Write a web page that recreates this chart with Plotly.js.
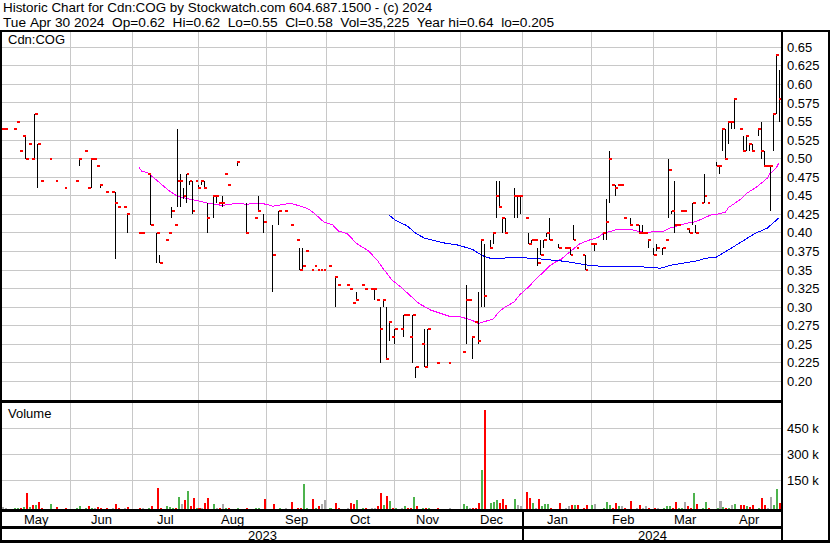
<!DOCTYPE html>
<html><head><meta charset="utf-8">
<script src="https://cdn.plot.ly/plotly-3.0.1.min.js"></script>
<style>html,body{margin:0;padding:0;background:#fff;}#chart{width:830px;height:543px;}
#chart svg path{shape-rendering:crispEdges;}</style>
</head><body><div id="chart"></div>
<script>
// ---------- DATA ----------
const dates = [
 '2023-05-01','2023-05-02','2023-05-05','2023-05-08','2023-05-09','2023-05-10','2023-05-11','2023-05-12','2023-05-15','2023-05-16','2023-05-17','2023-05-18','2023-05-23','2023-05-25','2023-05-30',
 '2023-06-05','2023-06-06','2023-06-08','2023-06-09','2023-06-12','2023-06-13','2023-06-14','2023-06-15','2023-06-19','2023-06-21','2023-06-22','2023-06-23','2023-06-27','2023-06-28',
 '2023-07-04','2023-07-05','2023-07-07','2023-07-10','2023-07-12','2023-07-13','2023-07-17','2023-07-18','2023-07-19','2023-07-20','2023-07-21','2023-07-24','2023-07-25','2023-07-26','2023-07-27','2023-07-28','2023-07-31',
 '2023-08-01','2023-08-02','2023-08-03','2023-08-04','2023-08-08','2023-08-09','2023-08-10','2023-08-11','2023-08-14','2023-08-15','2023-08-18','2023-08-23','2023-08-28','2023-08-29','2023-08-31',
 '2023-09-05','2023-09-07','2023-09-11','2023-09-13','2023-09-15','2023-09-18','2023-09-19','2023-09-20','2023-09-22','2023-09-25','2023-09-26','2023-09-27','2023-09-28',
 '2023-10-02','2023-10-04','2023-10-05','2023-10-10','2023-10-11','2023-10-12','2023-10-13','2023-10-17','2023-10-18','2023-10-20','2023-10-23','2023-10-24','2023-10-25','2023-10-26','2023-10-27','2023-10-30','2023-10-31',
 '2023-11-01','2023-11-03','2023-11-06','2023-11-07','2023-11-08','2023-11-09','2023-11-10','2023-11-14','2023-11-15','2023-11-16','2023-11-21','2023-11-27',
 '2023-12-04','2023-12-05','2023-12-06','2023-12-07','2023-12-08','2023-12-11','2023-12-12','2023-12-13','2023-12-15','2023-12-18','2023-12-19','2023-12-20','2023-12-21','2023-12-22','2023-12-27','2023-12-28','2023-12-29',
 '2024-01-02','2024-01-03','2024-01-04','2024-01-05','2024-01-08','2024-01-09','2024-01-10','2024-01-11','2024-01-12','2024-01-17','2024-01-19','2024-01-22','2024-01-23','2024-01-24','2024-01-25','2024-01-29','2024-01-30',
 '2024-02-01','2024-02-02','2024-02-07','2024-02-08','2024-02-09','2024-02-12','2024-02-13','2024-02-14','2024-02-15','2024-02-16','2024-02-20','2024-02-22','2024-02-23','2024-02-26','2024-02-27','2024-02-28',
 '2024-03-01','2024-03-04','2024-03-06','2024-03-07','2024-03-08','2024-03-11','2024-03-12','2024-03-13','2024-03-14','2024-03-15','2024-03-18','2024-03-19','2024-03-20','2024-03-21','2024-03-25','2024-03-26','2024-03-27',
 '2024-04-01','2024-04-02','2024-04-03','2024-04-04','2024-04-05','2024-04-08','2024-04-09','2024-04-11','2024-04-12','2024-04-15','2024-04-16','2024-04-17','2024-04-19','2024-04-22','2024-04-23','2024-04-24','2024-04-25','2024-04-26','2024-04-29','2024-04-30'
];
const n = null;
const high = [
 n,n,n,n,n,n,.53,n,n,.56,.52,n,n,n,n,
 n,.50,n,n,.50,n,n,.465,n,n,.455,n,n,.425,
 n,n,n,.48,.40,.37,n,n,.435,n,.54,.48,.46,.48,.47,.47,n,
 .465,.47,.47,.44,.45,.45,n,.45,n,n,.495,.44,n,.45,.425,
 .41,.43,n,n,n,.38,.38,n,n,n,n,n,n,
 n,.34,n,n,n,n,.32,n,n,n,.325,n,.30,.31,.30,.28,n,
 .27,n,.29,n,n,.29,.22,n,.27,.27,n,n,
 n,.33,n,.26,n,.32,.39,.385,.39,.40,.47,.47,.42,.42,.46,.45,.45,
 n,.40,.39,n,.38,.39,.39,.40,.42,.385,n,n,.38,.41,n,n,.37,
 n,.385,.40,.445,.51,n,.465,n,n,n,.42,n,.41,.41,n,.39,
 .38,.385,.38,n,.50,.43,.47,n,n,n,n,.405,.44,.41,n,.48,n,
 .495,.49,.54,.54,.55,.55,.58,n,.53,.53,.52,.52,.54,.55,.51,n,.49,.56,.64,.62
];
const low = [
 n,n,n,n,n,n,.50,n,n,.50,.46,n,n,n,n,
 n,.49,n,n,.46,n,n,.46,n,n,.365,n,n,.40,
 n,n,n,.41,.36,.36,n,n,.42,n,.435,.435,.445,.44,.465,.425,n,
 .46,.465,.46,.40,.42,.44,n,.435,n,n,.49,.40,n,.43,.40,
 .32,.41,n,n,n,.35,.35,n,n,n,n,n,n,
 n,.30,n,n,n,n,.31,n,n,n,.31,n,.225,.30,.23,.255,n,
 .25,n,.26,n,n,.225,.205,n,.22,.22,n,n,
 n,.25,n,.23,n,.25,.30,.30,.38,.385,.42,.435,.40,.40,.42,.42,.425,
 n,.385,.385,n,.355,.37,.38,.395,.39,.38,n,n,.37,.39,n,n,.35,
 n,.375,.39,.39,.44,n,.45,n,n,n,.41,n,.40,.40,n,.38,
 .37,.375,.37,n,.42,.425,.40,n,n,n,n,.40,.41,.40,n,.44,n,
 .49,.48,.51,.50,.52,.54,.54,n,.51,.51,.51,.51,.53,.50,.49,n,.43,.51,.56,.55
];
const close = [
 .54,.54,.54,.55,.51,.53,.50,.52,.50,.56,.52,.47,.50,.47,.46,
 .47,.50,.51,.46,.50,.50,.49,.465,.455,.455,.44,.435,.435,.425,
 .40,.40,.48,.41,.40,.36,.39,.40,.43,.41,.47,.47,.45,.48,.47,.43,.47,
 .46,.47,.46,.42,.45,.45,.44,.44,.48,.465,.495,.40,.42,.43,.415,
 .37,.43,.43,.41,.39,.35,.355,.375,.35,.355,.35,.35,.35,
 .355,.34,.33,.33,.325,.305,.31,.33,.325,.325,.325,.31,.27,.31,.23,.28,.26,
 .27,.27,.29,.29,.26,.29,.22,.25,.22,.27,.225,.225,
 .24,.31,.31,.26,.28,.255,.39,.315,.38,.40,.45,.435,.42,.40,.45,.45,.45,
 .42,.385,.39,.39,.36,.37,.39,.40,.39,.38,.38,.38,.37,.39,.38,.37,.35,
 .385,.385,.40,.415,.50,.465,.46,.465,.465,.42,.41,.41,.40,.40,.40,.39,
 .37,.38,.38,.39,.485,.43,.41,.41,.43,.43,.405,.40,.44,.40,.44,.45,.44,
 .49,.49,.54,.50,.55,.55,.58,.54,.51,.53,.52,.51,.54,.51,.49,.49,.49,.56,.64,.58
];
const volume = [
 13000,8000,6000,6000,6000,10000,92000,12000,23000,23000,40000,8000,29000,12000,6000,
 8000,17000,6000,17000,6000,4000,12000,4000,4000,4000,29000,4000,4000,12000,
 4000,4000,6000,17000,123000,4000,17000,12000,6000,6000,69000,29000,52000,104000,17000,63000,6000,
 6000,6000,35000,63000,29000,6000,4000,29000,6000,4000,8000,8000,6000,6000,58000,
 29000,6000,4000,40000,4000,4000,144000,6000,58000,6000,17000,29000,52000,
 6000,35000,4000,4000,35000,29000,52000,6000,4000,4000,4000,17000,92000,23000,75000,46000,6000,
 6000,4000,17000,6000,4000,69000,17000,6000,4000,4000,4000,4000,
 29000,17000,6000,6000,6000,35000,225000,571000,35000,40000,52000,35000,58000,23000,58000,23000,17000,
 98000,63000,35000,6000,58000,17000,29000,29000,6000,35000,4000,17000,23000,23000,23000,6000,23000,
 23000,29000,6000,40000,23000,6000,35000,17000,17000,6000,46000,4000,23000,6000,17000,6000,
 6000,4000,6000,17000,17000,6000,40000,6000,6000,40000,17000,6000,92000,29000,6000,40000,6000,
 6000,46000,12000,6000,6000,23000,29000,23000,23000,17000,12000,23000,6000,63000,23000,6000,69000,23000,115000,35225
];
const volDir = [
 'n','n','u','u','d','u','d','u','d','u','d','d','u','d','d',
 'u','u','u','d','u','n','d','d','d','n','d','d','n','d',
 'd','n','u','d','d','d','u','u','u','d','u','n','d','u','d','d','u',
 'd','n','d','d','u','n','d','n','u','d','u','d','u','u','d',
 'd','u','n','d','d','d','u','u','d','u','d','n','n',
 'u','d','d','n','d','d','u','u','d','n','n','d','d','u','d','u','d',
 'u','n','u','d','d','u','d','u','d','u','d','n',
 'u','u','n','d','d','d','u','d','u','u','u','d','d','d','u','n','n',
 'd','d','u','n','d','u','u','u','d','d','n','n','d','u','d','d','d',
 'u','n','u','u','u','d','d','u','n','d','d','n','d','n','n','d',
 'd','n','u','u','u','d','d','u','u','n','d','d','u','d','u','u','d',
 'u','n','u','d','u','n','u','d','d','u','d','d','u','d','d','n','n','u','u','d'
];
// moving averages
const maShortDates = ['2023-07-04','2023-07-05','2023-07-07','2023-07-11','2023-07-14','2023-07-18','2023-07-21','2023-07-27','2023-08-01','2023-08-04','2023-08-11','2023-08-18','2023-08-23','2023-08-29','2023-09-01','2023-09-05','2023-09-07','2023-09-13','2023-09-19','2023-09-21','2023-09-25','2023-09-28','2023-10-03','2023-10-05','2023-10-10','2023-10-13','2023-10-19','2023-10-24','2023-10-26','2023-10-31','2023-11-03','2023-11-08','2023-11-13','2023-11-17','2023-11-22','2023-11-27','2023-12-01','2023-12-07','2023-12-11','2023-12-13','2023-12-18','2023-12-20','2023-12-22','2023-12-27','2023-12-29','2024-01-03','2024-01-05','2024-01-10','2024-01-12','2024-01-16','2024-01-18','2024-01-22','2024-01-24','2024-01-26','2024-01-31','2024-02-05','2024-02-07','2024-02-12','2024-02-14','2024-02-20','2024-02-23','2024-02-27','2024-03-01','2024-03-06','2024-03-08','2024-03-13','2024-03-18','2024-03-21','2024-03-25','2024-03-28','2024-04-02','2024-04-04','2024-04-05','2024-04-09','2024-04-11','2024-04-15','2024-04-18','2024-04-22','2024-04-24','2024-04-25','2024-04-29','2024-04-30'];
const maShort = [0.488,0.483,0.481,0.474,0.464,0.457,0.449,0.446,0.443,0.440,0.437,0.440,0.4385,0.440,0.4385,0.436,0.437,0.440,0.435,0.432,0.426,0.415,0.411,0.4025,0.399,0.386,0.376,0.3635,0.352,0.3365,0.327,0.316,0.305,0.296,0.292,0.288,0.287,0.282,0.278,0.280,0.284,0.294,0.300,0.307,0.317,0.3275,0.3365,0.3477,0.3558,0.361,0.365,0.372,0.378,0.385,0.390,0.3935,0.3994,0.403,0.405,0.405,0.4016,0.4008,0.4016,0.402,0.406,0.4097,0.413,0.415,0.4183,0.424,0.4258,0.428,0.434,0.440,0.445,0.453,0.4605,0.4668,0.4735,0.480,0.487,0.4946];
const maLongDates = ['2023-10-30','2023-11-01','2023-11-07','2023-11-10','2023-11-15','2023-11-20','2023-11-24','2023-11-30','2023-12-04','2023-12-07','2023-12-11','2023-12-13','2023-12-15','2024-01-01','2024-01-09','2024-01-15','2024-01-18','2024-01-23','2024-01-29','2024-02-01','2024-02-07','2024-02-16','2024-02-21','2024-03-01','2024-03-05','2024-03-11','2024-03-18','2024-03-22','2024-03-26','2024-04-01','2024-04-04','2024-04-10','2024-04-15','2024-04-18','2024-04-24','2024-04-26','2024-04-30'];
const maLong = [0.4241,0.4173,0.4097,0.3994,0.3927,0.3895,0.386,0.3837,0.381,0.3779,0.3725,0.3684,0.3658,0.3666,0.3648,0.3635,0.3621,0.3604,0.3577,0.3558,0.355,0.354,0.3545,0.3536,0.3523,0.3567,0.3598,0.3626,0.3657,0.3675,0.3746,0.3846,0.3927,0.3994,0.4062,0.4129,0.4204];

const priceTicks = [0.20,0.225,0.25,0.275,0.30,0.325,0.35,0.375,0.40,0.425,0.45,0.475,0.50,0.525,0.55,0.575,0.60,0.625,0.65];
const priceTickText = ['0.20','0.225','0.25','0.275','0.30','0.325','0.35','0.375','0.40','0.425','0.45','0.475','0.50','0.525','0.55','0.575','0.60','0.625','0.65'];
const volTicks = [150000,300000,450000];
const volTickText = ['150 k','300 k','450 k'];
const monthLabels = ['May','Jun','Jul','Aug','Sep','Oct','Nov','Dec','Jan','Feb','Mar','Apr'];
const yearLabels = ['2023','2024'];
const headerLine1 = 'Historic Chart for Cdn:COG by Stockwatch.com 604.687.1500 - (c) 2024';
const headerLine2 = 'Tue Apr 30 2024  Op=0.62  Hi=0.62  Lo=0.55  Cl=0.58  Vol=35,225  Year hi=0.64  lo=0.205';
const symbolLabel = 'Cdn:COG';
const volumeLabel = 'Volume';

// ---------- LAYOUT HELPERS ----------
const W = 830, H = 543, ML = 2, MR = 48, MT = 32, MB = 34;
const PW = W - ML - MR, PH = H - MT - MB;
const px = X => (X - ML) / PW;
const py = Y => (H - MB - Y) / PH;
const DAY = 864e5;
const START = '2023-05-01', END = '2024-05-01';
function iso(t){ return new Date(t).toISOString().slice(0,10); }
function slotOf(s){
  const a = Date.UTC(2023,4,1); const p = s.split('-').map(Number);
  const b = Date.UTC(p[0],p[1]-1,p[2]); let k = 0;
  for (let u = a; u < b; u += DAY){ const wd = new Date(u).getUTCDay(); if (wd !== 0 && wd !== 6) k++; }
  return k;
}
function boundary(y, m){
  let t = Date.UTC(y, m, 1); const wd = new Date(t).getUTCDay();
  if (wd === 6) t -= DAY; else if (wd === 0) t -= 2*DAY;
  return iso(t);
}
const bounds = [];
for (let i = 0; i <= 12; i++){ const mm = 4 + i; bounds.push(boundary(2023 + Math.floor(mm/12), mm % 12)); }
const TOTAL = slotOf(END);
const bSlots = bounds.map(slotOf);
const gridDates = bounds.slice(1, 12);

const fontFam = '"Liberation Sans", Arial, sans-serif';
// header font size fitted to the measured text extent of the reference
const nb = s => s.replace(/ /g, '\u00a0');
const cv = document.createElement('canvas').getContext('2d');
cv.font = '13px "Liberation Sans"';
const fit = (prefix, targetPx) => 13 * targetPx / cv.measureText(nb(prefix)).width;
const hdr1Size = fit('Historic Chart for Cdn:COG by Stockwatch.com 604.687.1500 - (c) 20', 415);
const hdr2Size = fit('Tue Apr 30 2024  Op=0.62  Hi=0.62  Lo=0.55  Cl=0.58  Vol=35,225  ', 414);

// ---------- TRACES ----------
const barX = [], barY = [], tickX = [], tickY = [];
dates.forEach((d, i) => {
  if (high[i] !== null && low[i] !== null){ barX.push(d, d, null); barY.push(low[i], high[i], null); }
  tickX.push(d, d + ' 23:00', null); tickY.push(close[i], close[i], null);
});
const VMIN = -15577, VMAX = 597692;
const dirColor = {u:'#4db34d', d:'#ff0000', n:'#a8a8a8'};

const traces = [
  {type:'scatter', mode:'lines', x:maShortDates, y:maShort, line:{color:'#ff00ff', width:1}, hoverinfo:'skip', xaxis:'x', yaxis:'y'},
  {type:'scatter', mode:'lines', x:maLongDates, y:maLong, line:{color:'#0000ff', width:1}, hoverinfo:'skip', xaxis:'x', yaxis:'y'},
  {type:'scatter', mode:'lines', x:barX, y:barY, line:{color:'#000000', width:1}, connectgaps:false, hoverinfo:'skip', xaxis:'x', yaxis:'y'},
  {type:'scatter', mode:'lines', x:tickX, y:tickY, line:{color:'#ff0000', width:2}, connectgaps:false, hoverinfo:'skip', xaxis:'x', yaxis:'y'},
  {type:'bar', x:dates, y:volume, base:VMIN, offset:0, width:0.68*DAY,
   marker:{color:volDir.map(c => dirColor[c]), line:{width:0}}, hoverinfo:'skip', xaxis:'x2', yaxis:'y2'}
];

const xcommon = {type:'date', range:[START, END], rangebreaks:[{bounds:['sat','mon']}],
  tickmode:'array', tickvals:gridDates, showticklabels:false, ticks:'', showgrid:true,
  gridcolor:'#c8c8c8', gridwidth:1, zeroline:false, showline:false, fixedrange:true};

const ann = [];
const A = (text, X, Y, xa, size) => ann.push({text, x:px(X), y:py(Y), xref:'paper', yref:'paper',
  xanchor:xa, yanchor:'middle', showarrow:false, font:{family:fontFam, size:size||13, color:'#000'}});
A(nb(headerLine1), 1, 7.5, 'left', hdr1Size);
A(nb(headerLine2), 1, 22.5, 'left', hdr2Size);
A(symbolLabel, 6, 40, 'left');
A(volumeLabel, 6, 413, 'left');
monthLabels.forEach((m, i) => {
  ann.push({text:m, x:(bSlots[i] + bSlots[i+1]) / 2 / TOTAL, y:py(519), xref:'paper', yref:'paper',
    xanchor:'center', yanchor:'middle', showarrow:false, font:{family:fontFam, size:13, color:'#000'}});
});
const yearSlots = [bSlots[0], bSlots[8], bSlots[12]];
yearLabels.forEach((y, i) => {
  ann.push({text:y, x:(yearSlots[i] + yearSlots[i+1]) / 2 / TOTAL, y:py(535), xref:'paper', yref:'paper',
    xanchor:'center', yanchor:'middle', showarrow:false, font:{family:fontFam, size:13, color:'#000'}});
});

const L = (x0, y0, x1, y1, w) => ({type:'line', xref:'paper', yref:'paper', x0:px(x0), y0:py(y0), x1:px(x1), y1:py(y1),
  line:{color:'#000', width:w}, layer:'above'});
const yearDivX = ML + PW * bSlots[8] / TOTAL;
const shapes = [
  L(0, 30.5, 830, 30.5, 2),
  L(1, 30, 1, 543, 2),
  L(781.8, 30, 781.8, 543, 2),
  L(829, 30, 829, 543, 2),
  L(0, 401.3, 781.8, 401.3, 2.6),
  L(0, 510.6, 781.8, 510.6, 2.6),
  L(0, 527.3, 781.8, 527.3, 2.6),
  L(0, 541.6, 830, 541.6, 2.6),
  L(yearDivX, 510, yearDivX, 542, 2)
];

const layout = {
  width:W, height:H, margin:{l:ML, r:MR, t:MT, b:MB, pad:0},
  paper_bgcolor:'#fff', plot_bgcolor:'#fff', showlegend:false, bargap:0,
  font:{family:fontFam, size:13, color:'#000'},
  xaxis:Object.assign({anchor:'y'}, xcommon),
  xaxis2:Object.assign({anchor:'y2', matches:'x'}, xcommon),
  yaxis:{domain:[(H-MB-400)/PH, 1], range:[0.17487, 0.67063], side:'right', tickmode:'array',
    tickvals:priceTicks, ticktext:priceTickText, showgrid:true, gridcolor:'#c8c8c8', gridwidth:1,
    zeroline:false, showline:false, ticks:'', ticklabelstandoff:4, tickfont:{family:fontFam, size:13, color:'#000'}, fixedrange:true},
  yaxis2:{domain:[0, (H-MB-402.7)/PH], range:[VMIN, VMAX], side:'right', tickmode:'array',
    tickvals:volTicks, ticktext:volTickText, showgrid:true, gridcolor:'#c8c8c8', gridwidth:1,
    zeroline:false, showline:false, ticks:'', ticklabelstandoff:4, tickfont:{family:fontFam, size:13, color:'#000'}, fixedrange:true},
  annotations:ann, shapes:shapes
};
Plotly.newPlot('chart', traces, layout, {displayModeBar:false, staticPlot:true});
</script>
</body></html>
